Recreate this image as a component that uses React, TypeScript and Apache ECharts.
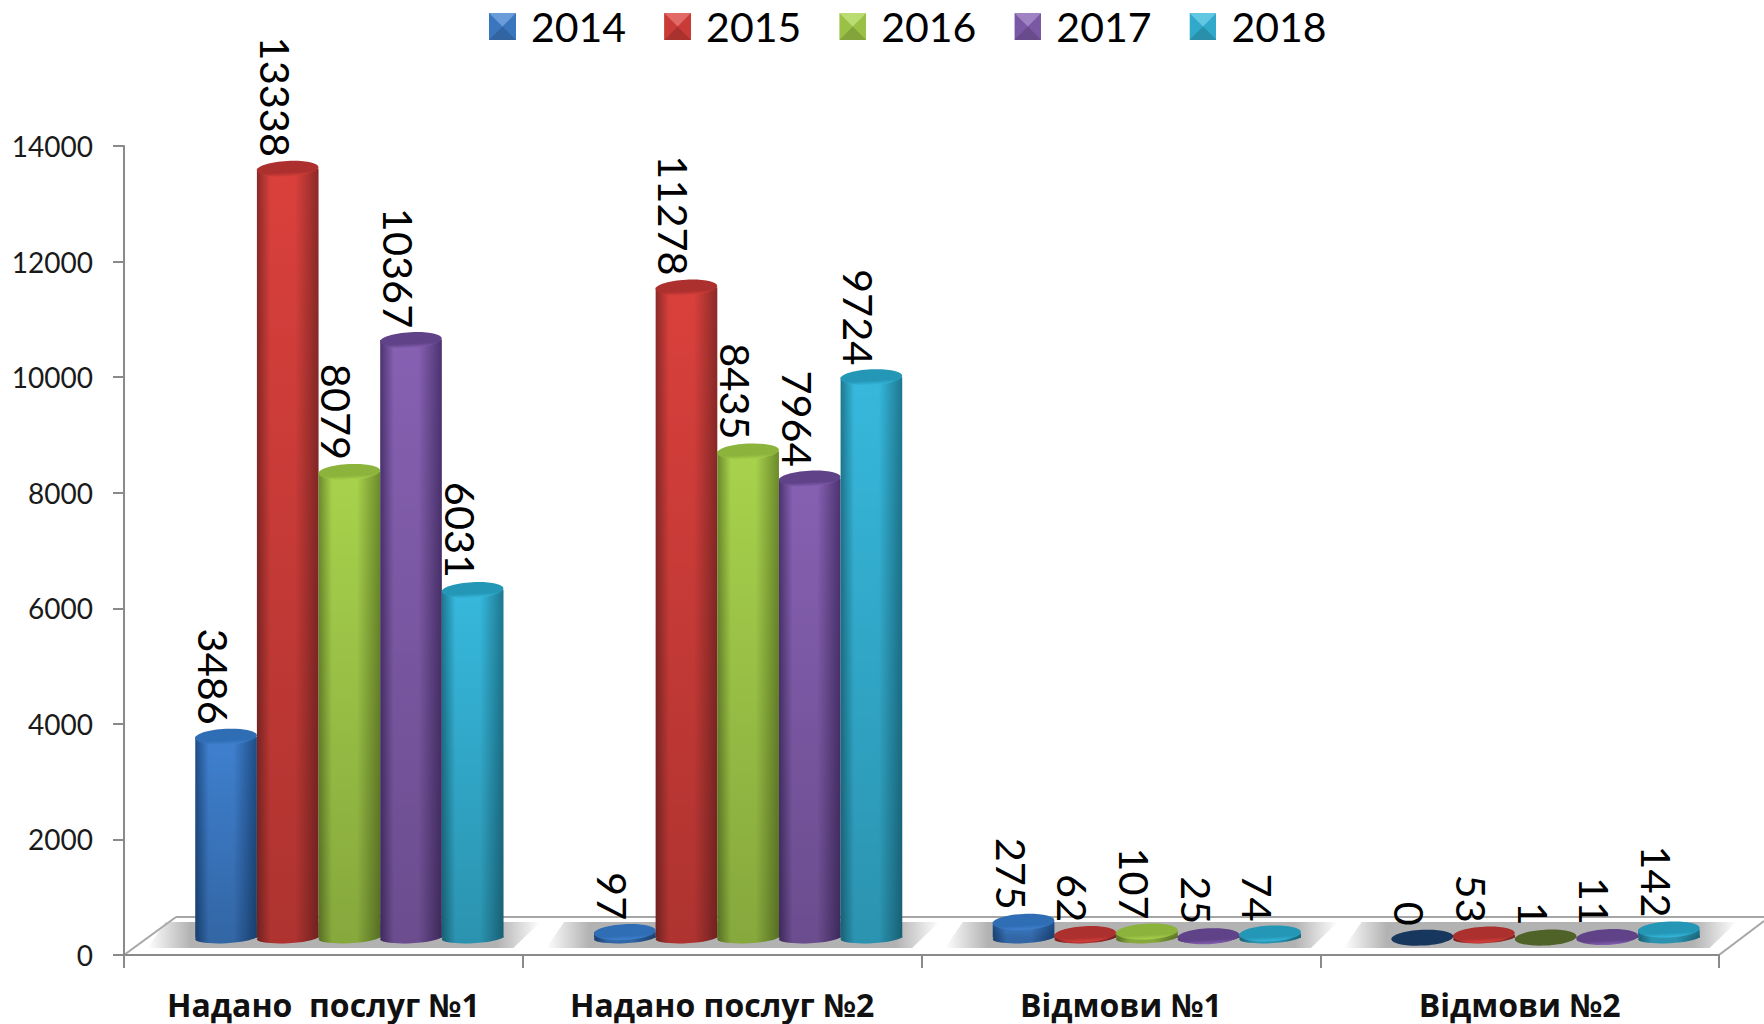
import React, { useEffect, useRef } from "react";
import * as echarts from "echarts";

const categories = ["Надано  послуг №1", "Надано послуг №2", "Відмови №1", "Відмови №2"];
const years = ["2014", "2015", "2016", "2017", "2018"];
const values2014 = [3486, 97, 275, 0];
const values2015 = [13338, 11278, 62, 53];
const values2016 = [8079, 8435, 107, 1];
const values2017 = [10367, 7964, 25, 11];
const values2018 = [6031, 9724, 74, 142];
const allValues = [values2014, values2015, values2016, values2017, values2018];
const yTicks = { min: 0, max: 14000, interval: 2000 };

const edgeColors = ["#1e4d86", "#8a2a28", "#6c8a2b", "#4c3370", "#1d7790"];
const midColors = ["#3f80cf", "#da403c", "#a8d24c", "#8660b2", "#36b8dc"];
const topColors = ["#2f6db4", "#ac302d", "#8cb33b", "#5f4288", "#2497b6"];
const flatColors = ["#17375e", "#ac302d", "#4f6228", "#5f4288", "#2497b6"];

const labelFont = "Lato";

function legendIcon(i: number) {
  const svg = `<svg xmlns="http://www.w3.org/2000/svg" width="28" height="28"><rect width="28" height="28" fill="${midColors[i]}"/><polygon points="0,0 28,0 14,14" fill="#fff" fill-opacity="0.22"/><polygon points="0,28 28,28 14,14" fill="#000" fill-opacity="0.22"/><polygon points="0,0 0,28 14,14" fill="#000" fill-opacity="0.08"/><polygon points="28,0 28,28 14,14" fill="#000" fill-opacity="0.08"/></svg>`;
  return "image://data:image/svg+xml;charset=utf-8," + encodeURIComponent(svg);
}

function cylinderItem(seriesIdx: number) {
  return (_params: any, api: any) => {
    const cat = api.value(0);
    const val = api.value(1);
    const base = api.coord([cat, 0]);
    const top = api.coord([cat, val]);
    const band = api.size([1, 0])[0];
    const w = band * 0.1546;
    const cx = base[0] + (seriesIdx - 2) * w;
    const rx = w / 2;
    const ry = 7.9;
    const tilt = 0.05;
    const bodyFill = new echarts.graphic.LinearGradient(0, 0, 1, 0, [
      { offset: 0, color: edgeColors[seriesIdx] },
      { offset: 0.22, color: midColors[seriesIdx] },
      { offset: 0.62, color: midColors[seriesIdx] },
      { offset: 1, color: edgeColors[seriesIdx] },
    ]);
    const shade = new echarts.graphic.LinearGradient(0, 0, 0, 1, [
      { offset: 0, color: "rgba(0,0,0,0)" },
      { offset: 1, color: "rgba(0,0,0,0.2)" },
    ]);
    const flat = val <= 1;
    const topFill = flat
      ? flatColors[seriesIdx]
      : new echarts.graphic.LinearGradient(0, 0, 0, 1, [
          { offset: 0, color: topColors[seriesIdx] },
          { offset: 0.72, color: topColors[seriesIdx] },
          { offset: 1, color: midColors[seriesIdx] },
        ]);
    const baseEllipse = { cx: 0, cy: 0, rx, ry: 5.5 };
    const children: any[] = [
      { type: "ellipse", x: cx, y: base[1], rotation: tilt, shape: baseEllipse, style: { fill: bodyFill } },
      { type: "ellipse", x: cx, y: base[1], rotation: tilt, shape: baseEllipse, style: { fill: "rgba(0,0,0,0.2)" } },
      {
        type: "rect",
        shape: { x: cx - rx, y: top[1], width: w, height: Math.max(0, base[1] - top[1]) },
        style: { fill: bodyFill },
      },
      {
        type: "rect",
        shape: { x: cx - rx, y: top[1], width: w, height: Math.max(0, base[1] - top[1]) },
        style: { fill: shade },
      },
      {
        type: "ellipse", x: cx, y: top[1], rotation: tilt,
        shape: { cx: 0, cy: 0, rx, ry },
        style: { fill: topFill },
      },
      {
        type: "text", x: cx - 12, y: top[1] - ry - 4, rotation: -Math.PI / 2, z2: 100,
        style: {
          text: String(val), align: "right", verticalAlign: "middle",
          fontFamily: labelFont, fontSize: 41.5, fill: "#000",
        },
      },
    ];
    return { type: "group", children };
  };
}

function floorItem(_params: any, api: any) {
  const c = api.coord([api.value(0), 0])[0];
  const fill = new echarts.graphic.LinearGradient(0, 0, 1, 0, [
    { offset: 0, color: "rgba(178,178,178,0)" },
    { offset: 0.11, color: "rgba(178,178,178,1)" },
    { offset: 0.89, color: "rgba(178,178,178,1)" },
    { offset: 1, color: "rgba(178,178,178,0)" },
  ]);
  return {
    type: "polygon",
    shape: { points: [[c - 184, 922], [c + 191, 922], [c + 164, 948], [c - 202, 948]] },
    style: { fill },
  };
}

export default function App() {
  const ref = useRef<HTMLDivElement>(null);
  useEffect(() => {
    const chart = echarts.init(ref.current!, undefined, { renderer: "svg" });
    const grey = "#8a8a8a";
    const floorLine = { stroke: "#a6a6a6", lineWidth: 2 };
    chart.setOption({
      animation: false,
      backgroundColor: "#fff",
      legend: {
        left: 489, top: 6, padding: 0, itemWidth: 27, itemHeight: 27, itemGap: 38,
        data: years.map((y, i) => ({ name: y, icon: legendIcon(i) })),
        textStyle: { fontFamily: labelFont, fontSize: 41, color: "#000", padding: [0, 0, 0, 10] },
        selectedMode: false,
      },
      graphic: [
        { type: "line", shape: { x1: 176, y1: 917, x2: 1764, y2: 917 }, style: floorLine, silent: true },
        { type: "line", shape: { x1: 124, y1: 955, x2: 176, y2: 917 }, style: floorLine, silent: true },
        { type: "line", shape: { x1: 1719, y1: 955, x2: 1764, y2: 921 }, style: floorLine, silent: true },
      ],
      grid: [
        { left: 124, right: 45, top: 146, bottom: 69, containLabel: false },
        { left: 150, right: 19, top: 130.7, bottom: 86.3, containLabel: false },
      ],
      xAxis: [
        {
          type: "category", gridIndex: 0, data: categories,
          axisLine: { lineStyle: { color: grey, width: 2 } },
          axisTick: { show: true, length: 13, lineStyle: { color: grey, width: 2 } },
          axisLabel: {
            margin: 33, fontFamily: "Open Sans", fontWeight: "bold", fontSize: 32,
            color: "#111", interval: 0,
          },
        },
        { type: "category", gridIndex: 1, data: categories, show: false },
      ],
      yAxis: [
        {
          type: "value", gridIndex: 0, ...yTicks,
          splitLine: { show: false },
          axisLine: { show: true, lineStyle: { color: grey, width: 2 } },
          axisTick: { show: true, length: 11, lineStyle: { color: grey, width: 2 } },
          axisLabel: {
            margin: 31, fontFamily: labelFont, fontSize: 28, color: "#1a1a1a",
            formatter: (v: number) => String(v),
          },
        },
        { type: "value", gridIndex: 1, ...yTicks, show: false, splitLine: { show: false } },
      ],
      series: [
        {
          type: "custom", name: "floor", xAxisIndex: 1, yAxisIndex: 1, silent: true, z: 1,
          data: categories.map((_, i) => [i, 0]),
          encode: { x: 0, y: 1 },
          renderItem: floorItem,
          clip: false,
        },
        ...years.map((y, s) => ({
          type: "custom", name: y, xAxisIndex: 1, yAxisIndex: 1, z: 2,
          itemStyle: { color: midColors[s] },
          data: allValues[s].map((v, i) => [i, v]),
          encode: { x: 0, y: 1 },
          renderItem: cylinderItem(s),
          clip: false,
        })),
      ],
    });
    return () => chart.dispose();
  }, []);
  return (
    <div
      ref={ref}
      style={{ position: "fixed", left: 0, top: 0, width: 1764, height: 1024, background: "#fff" }}
    />
  );
}
